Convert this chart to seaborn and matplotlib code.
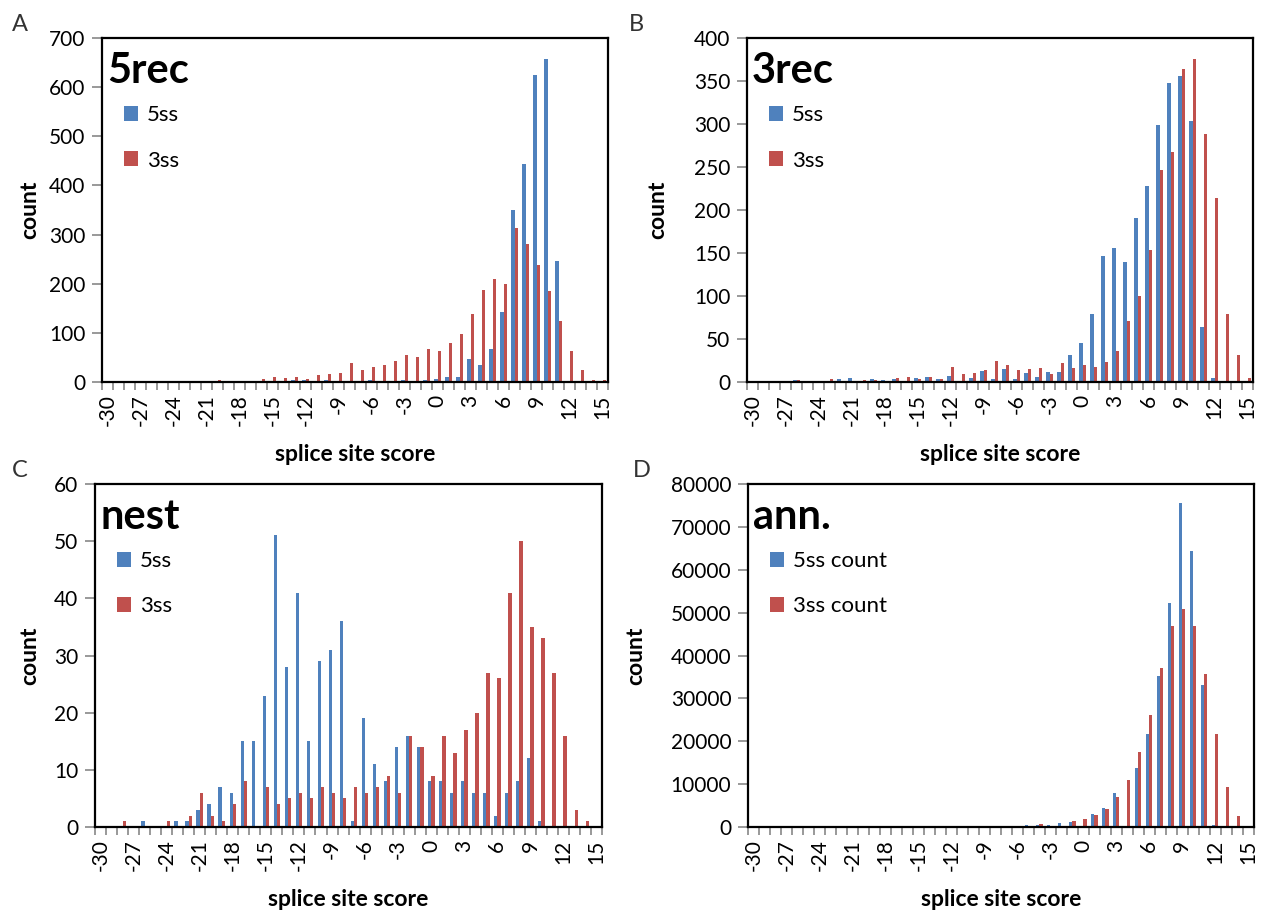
import numpy as np
import pandas as pd
import seaborn as sns
import matplotlib.pyplot as plt

# splice site scores -30 .. 15
scores = list(range(-30, 16))

rec5_5ss = [0] * 17 + [4, 5, 0, 5, 0, 0, 3, 5, 0, 0, 5, 3, 5, 7, 11, 10, 46, 35, 67, 143,
                       349, 443, 624, 657, 246, 3, 0, 0, 0]
rec5_3ss = [0] * 9 + [3, 5, 0, 3, 0, 7, 11, 9, 11, 7, 14, 17, 18, 39, 25, 31, 35, 43, 54, 50,
                      67, 64, 80, 98, 138, 187, 209, 199, 313, 280, 239, 185, 125, 64, 25, 5, 5]

rec3_5ss = [0] * 4 + [2, 0, 0, 0, 3, 5, 0, 4, 2, 3, 0, 5, 6, 4, 7, 0, 5, 13, 4, 15, 4, 11, 6,
                      12, 12, 31, 45, 79, 146, 156, 139, 191, 228, 299, 348, 356, 304, 64, 5, 0, 0, 0]
rec3_3ss = [0] * 4 + [2, 0, 0, 4, 0, 0, 2, 2, 0, 5, 6, 3, 6, 4, 18, 9, 10, 14, 24, 20, 14, 15,
                      16, 9, 22, 16, 20, 18, 23, 36, 71, 100, 153, 247, 267, 364, 376, 288, 214, 79, 32, 5]

nest_5ss = [0] * 4 + [1, 0, 0, 1, 1, 3, 4, 7, 6, 15, 15, 23, 51, 28, 41, 15, 29, 31, 36, 1, 19,
                      11, 8, 14, 16, 14, 8, 8, 6, 8, 6, 6, 2, 6, 8, 12, 1, 0, 0, 0, 0, 0]
nest_3ss = [0] * 2 + [1, 0, 0, 0, 1, 0, 2, 6, 2, 1, 4, 8, 0, 7, 4, 5, 6, 5, 7, 6, 5, 7, 6, 7, 9,
                      6, 16, 14, 9, 16, 13, 17, 20, 27, 26, 41, 50, 35, 33, 27, 16, 3, 1, 0]

ann_5ss = [0] * 13 + [100, 100, 150, 150, 200, 200, 250, 250, 300, 300, 350, 350, 400, 400, 550,
                      900, 1250, 100, 3000, 4400, 8000, 200, 13700, 21700, 35300, 52300, 75600,
                      64300, 33100, 500, 0, 0, 0]
ann_3ss = [0] * 13 + [100, 100, 150, 150, 200, 200, 250, 250, 300, 300, 300, 350, 300, 600, 250,
                      100, 1400, 1900, 2800, 4200, 7000, 10900, 17400, 26200, 37200, 46900, 50900,
                      46900, 35600, 21600, 9300, 2500, 300]

panels = [
    ("A", "5rec", rec5_5ss, rec5_3ss, ["5ss", "3ss"], 700, 100, [0.0805, 0.5843, 0.3994, 0.3744], -0.123, -0.071),
    ("B", "3rec", rec3_5ss, rec3_3ss, ["5ss", "3ss"], 400, 50, [0.5896, 0.5843, 0.3994, 0.3744], -0.156, -0.093),
    ("C", "nest", nest_5ss, nest_3ss, ["5ss", "3ss"], 60, 10, [0.0750, 0.1001, 0.4002, 0.3732], -0.108, -0.066),
    ("D", "ann.", ann_5ss, ann_3ss, ["5ss count", "3ss count"], 80000, 10000, [0.5904, 0.1001, 0.3990, 0.3732], -0.202, -0.091),
]

sns.set_style("white")
plt.rcParams['font.family'] = ['Lato', 'DejaVu Sans']
plt.rcParams['text.color'] = 'black'
plt.rcParams['axes.labelcolor'] = 'black'
plt.rcParams['xtick.labelcolor'] = 'black'
plt.rcParams['ytick.labelcolor'] = 'black'

blue = "#4F81BD"
red = "#C0504D"
order = [str(s) for s in scores]

fig = plt.figure(figsize=(12.67, 9.19), dpi=100)

for letter, name, s5, s3, labels, ymax, ystep, pos, ylab_x, let_dx in panels:
    ax = fig.add_axes(pos)
    df = pd.DataFrame({
        "score": order + order,
        "count": s5 + s3,
        "site": [labels[0]] * len(order) + [labels[1]] * len(order),
    })
    sns.barplot(data=df, x="score", y="count", hue="site", order=order,
                hue_order=labels, palette=[blue, red], width=0.6, saturation=1,
                linewidth=0, ax=ax)

    ax.set_xlim(-0.5, len(order) - 0.5)
    ax.set_ylim(0, ymax)
    ax.set_yticks(np.arange(0, ymax + 1, ystep))
    ax.tick_params(axis="y", labelsize=15, length=7, width=1.2, color="#888888", left=True, pad=5)

    # tick marks at category boundaries, labels every third category
    ax.set_xticks(np.arange(-0.5, len(order), 1))
    ax.set_xticklabels([])
    ax.tick_params(axis="x", which="major", length=6, width=1.2, color="#888888", bottom=True)
    ax.set_xticks(np.arange(0, len(order), 3), minor=True)
    ax.set_xticklabels(order[::3], minor=True, rotation=90, fontsize=15)
    ax.tick_params(axis="x", which="minor", length=0, pad=9)

    for sp in ax.spines.values():
        sp.set_visible(True)
        sp.set_color("black")
        sp.set_linewidth(1.6)

    ax.set_ylabel("count", fontsize=16.5, fontweight="bold")
    ax.yaxis.set_label_coords(ylab_x, 0.5)
    ax.set_xlabel("splice site score", fontsize=16.5, fontweight="bold")
    ax.xaxis.set_label_coords(0.5, -0.18)

    ax.text(0.01, 0.96, name, transform=ax.transAxes, ha="left", va="top",
            fontsize=30, fontweight="bold")

    handles, _ = ax.get_legend_handles_labels()
    ax.legend(handles, labels, loc="upper left", bbox_to_anchor=(0.043, 0.805),
              frameon=False, fontsize=16, borderaxespad=0, borderpad=0,
              handlelength=0.65, handleheight=0.65, handletextpad=0.4, labelspacing=1.15)

    bb = ax.get_position()
    fig.text(bb.x0 + let_dx, bb.y1 + 0.008, letter,
             fontsize=17, color="#333333", ha="left", va="baseline")

fig.savefig("out.png", dpi=100)
